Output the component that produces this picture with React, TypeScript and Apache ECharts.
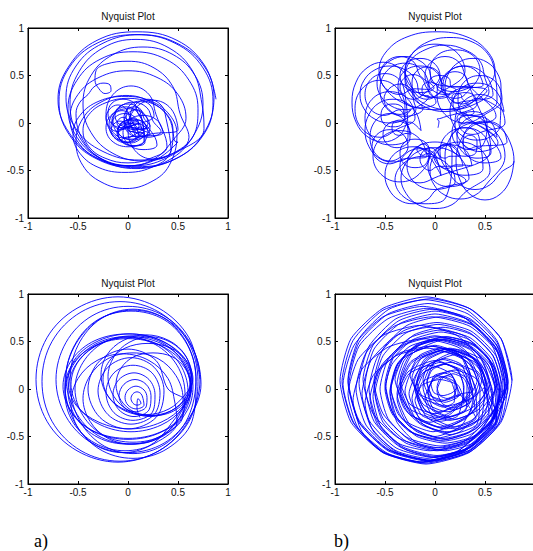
import * as echarts from "echarts";
import { useEffect, useRef } from "react";

// axis ticks shared by the four Nyquist panels
const axisTicks = [-1, -0.5, 0, 0.5, 1];
const panelTitles = ["Nyquist Plot", "Nyquist Plot", "Nyquist Plot", "Nyquist Plot"];
const figureLabels = ["a)", "b)"];

// top left: big outer loops, lower loops, dense knot round the origin
const nyquistA = [
  [0.88, 0.25], [0.77, 0.6], [0.49, 0.87], [0.09, 0.96], [-0.31, 0.87], [-0.59, 0.6], [-0.7, 0.25], [-0.59, -0.1], [-0.31, -0.37], [0.09, -0.46], [0.49, -0.37], [0.77, -0.1],
  [0.85, 0.23], [0.75, 0.58], [0.47, 0.84], [0.08, 0.93], [-0.31, 0.84], [-0.59, 0.58], [-0.69, 0.23], [-0.59, -0.12], [-0.31, -0.38], [0.08, -0.47], [0.47, -0.38], [0.75, -0.12],
  [0.86, 0.27], [0.76, 0.6], [0.49, 0.84], [0.12, 0.93], [-0.25, 0.84], [-0.52, 0.6], [-0.62, 0.27], [-0.52, -0.06], [-0.25, -0.3], [0.12, -0.39], [0.49, -0.3], [0.76, -0.06],
  [0.74, 0.2], [0.65, 0.54], [0.41, 0.79], [0.08, 0.88], [-0.25, 0.79], [-0.49, 0.54], [-0.58, 0.2], [-0.49, -0.14], [-0.25, -0.39], [0.08, -0.48], [0.41, -0.39], [0.65, -0.14],
  [0.75, 0.2], [0.67, 0.5], [0.45, 0.72], [0.15, 0.8], [-0.15, 0.72], [-0.37, 0.5], [-0.45, 0.2], [-0.37, -0.1], [-0.15, -0.32], [0.15, -0.4], [0.45, -0.32], [0.67, -0.1],
  [0.7, 0.15], [0.61, 0.45], [0.38, 0.67], [0.05, 0.75], [-0.28, 0.67], [-0.51, 0.45], [-0.6, 0.15], [-0.51, -0.15], [-0.28, -0.37], [0.05, -0.45], [0.38, -0.37], [0.61, -0.15],
  [0.52, 0.1], [0.45, 0.38], [0.26, 0.58], [0.0, 0.65], [-0.22, 0.62], [-0.32, 0.55], [-0.33, 0.45], [-0.29, 0.36], [-0.23, 0.31], [-0.17, 0.34], [-0.18, 0.4], [-0.25, 0.42], [-0.34, 0.38], [-0.4, 0.3], [-0.48, 0.22], [-0.52, 0.1], [-0.45, -0.18], [-0.26, -0.38], [0.0, -0.45], [0.26, -0.38], [0.45, -0.18],
  [0.58, 0.05], [0.5, 0.3], [0.29, 0.48], [0.0, 0.55], [-0.29, 0.48], [-0.5, 0.3], [-0.58, 0.05], [-0.5, -0.2], [-0.29, -0.38], [0.0, -0.45], [0.29, -0.38], [0.5, -0.2],
  [0.48, -0.2], [0.41, 0.05], [0.23, 0.22], [-0.02, 0.29], [-0.27, 0.22], [-0.45, 0.05], [-0.52, -0.2], [-0.45, -0.45], [-0.27, -0.62], [-0.02, -0.69], [0.23, -0.62], [0.41, -0.45],
  [0.49, -0.12], [0.42, 0.08], [0.23, 0.23], [-0.03, 0.28], [-0.29, 0.23], [-0.48, 0.08], [-0.55, -0.12], [-0.48, -0.32], [-0.29, -0.47], [-0.03, -0.52], [0.23, -0.47], [0.42, -0.32],
  [0.45, -0.08], [0.39, 0.09], [0.23, 0.21], [0.0, 0.26], [-0.23, 0.21], [-0.39, 0.09], [-0.45, -0.08], [-0.39, -0.25], [-0.23, -0.37], [0.0, -0.42], [0.23, -0.37], [0.39, -0.25],
  [0.28, 0.09], [0.21, 0.3], [0.03, 0.39], [-0.15, 0.3], [-0.22, 0.09], [-0.15, -0.12], [0.03, -0.21], [0.21, -0.12],
  [0.5, -0.07], [0.43, 0.15], [0.25, 0.24], [0.07, 0.15], [0.0, -0.07], [0.07, -0.29], [0.25, -0.38], [0.43, -0.29],
  [0.38, 0.05], [0.33, 0.19], [0.2, 0.25], [0.07, 0.19], [0.02, 0.05], [0.07, -0.09], [0.2, -0.15], [0.33, -0.09],
  [0.25, 0.02], [0.19, 0.16], [0.05, 0.22], [-0.09, 0.16], [-0.15, 0.02], [-0.09, -0.12], [0.05, -0.18], [0.19, -0.12],
  [0.22, -0.05], [0.16, 0.09], [0.0, 0.15], [-0.16, 0.09], [-0.22, -0.05], [-0.16, -0.19], [0.0, -0.25], [0.16, -0.19],
  [0.15, -0.02], [0.1, 0.11], [-0.02, 0.17], [-0.14, 0.11], [-0.19, -0.02], [-0.14, -0.15], [-0.02, -0.21], [0.1, -0.15],
  [0.35, -0.1], [0.29, 0.03], [0.15, 0.08], [0.01, 0.03], [-0.05, -0.1], [0.01, -0.23], [0.15, -0.28], [0.29, -0.23],
  [0.1, 0.1], [0.06, 0.21], [-0.05, 0.25], [-0.16, 0.21], [-0.2, 0.1], [-0.16, -0.01], [-0.05, -0.05], [0.06, -0.01],
  [0.04, 0.03], [0.01, 0.1], [-0.06, 0.13], [-0.13, 0.1], [-0.16, 0.03], [-0.13, -0.04], [-0.06, -0.07], [0.01, -0.04],
  [0.26, 0.08], [0.22, 0.19], [0.12, 0.23], [0.02, 0.19], [-0.02, 0.08], [0.02, -0.03], [0.12, -0.07], [0.22, -0.03],
  [0.16, 0.05], [0.13, 0.14], [0.06, 0.17], [-0.01, 0.14], [-0.04, 0.05], [-0.01, -0.04], [0.06, -0.07], [0.13, -0.04],
  [0.14, -0.07], [0.11, 0.0], [0.02, 0.03], [-0.07, 0.0], [-0.1, -0.07], [-0.07, -0.14], [0.02, -0.17], [0.11, -0.14],
  [0.02, 0.05], [-0.02, 0.15], [-0.1, 0.19], [-0.18, 0.15], [-0.22, 0.05], [-0.18, -0.05], [-0.1, -0.09], [-0.02, -0.05],
  [0.19, -0.06], [0.16, 0.0], [0.1, 0.03], [0.04, 0.0], [0.01, -0.06], [0.04, -0.12], [0.1, -0.15], [0.16, -0.12],
  [0.01, -0.08], [-0.02, -0.01], [-0.08, 0.02], [-0.14, -0.01], [-0.17, -0.08], [-0.14, -0.15], [-0.08, -0.18], [-0.02, -0.15],
  [0.22, -0.12], [0.17, -0.04], [0.06, 0.0], [-0.05, -0.04], [-0.1, -0.12], [-0.05, -0.2], [0.06, -0.24], [0.17, -0.2],
  [0.13, 0.08], [0.09, 0.17], [0.0, 0.2], [-0.09, 0.17], [-0.13, 0.08], [-0.09, -0.01], [0.0, -0.04], [0.09, -0.01],
  [0.11, -0.02], [0.09, 0.03], [0.04, 0.05], [-0.01, 0.03], [-0.03, -0.02], [-0.01, -0.07], [0.04, -0.09], [0.09, -0.07],
  [0.11, -0.03], [0.07, 0.06], [-0.03, 0.1], [-0.13, 0.06], [-0.17, -0.03], [-0.13, -0.12], [-0.03, -0.16], [0.07, -0.12],
  [0.2, 0.0], [0.16, 0.1], [0.08, 0.14], [0.0, 0.1], [-0.04, 0.0], [0.0, -0.1], [0.08, -0.14], [0.16, -0.1],
  [0.11, -0.1], [0.08, -0.03], [0.0, 0.0], [-0.08, -0.03], [-0.11, -0.1], [-0.08, -0.17], [0.0, -0.2], [0.08, -0.17],
  [0.01, 0.0], [-0.01, 0.04], [-0.05, 0.06], [-0.09, 0.04], [-0.11, 0.0], [-0.09, -0.04], [-0.05, -0.06], [-0.01, -0.04],
  [0.2, -0.1], [0.16, 0.0], [0.05, 0.04], [-0.06, 0.0], [-0.1, -0.1], [-0.06, -0.2], [0.05, -0.24], [0.16, -0.2], [0.2, -0.1],
];

// top right: ring of loops round an empty middle
const nyquistB = [
  [0.03, -0.05], [0.04, 0.02], [0.02, 0.04], [0.06, 0.05],
  [0.42, 0.2], [0.39, 0.29], [0.3, 0.32], [0.21, 0.29], [0.18, 0.2], [0.21, 0.11], [0.3, 0.08], [0.39, 0.11],
  [0.27, 0.26], [0.26, 0.3], [0.22, 0.31], [0.18, 0.3], [0.17, 0.26], [0.18, 0.22], [0.22, 0.21], [0.26, 0.22],
  [0.58, 0.3], [0.5, 0.51], [0.3, 0.6], [0.1, 0.51], [0.02, 0.3], [0.1, 0.09], [0.3, 0.0], [0.5, 0.09],
  [0.67, 0.25], [0.61, 0.43], [0.45, 0.5], [0.29, 0.43], [0.23, 0.25], [0.29, 0.07], [0.45, 0.0], [0.61, 0.07],
  [0.34, 0.4], [0.3, 0.5], [0.2, 0.54], [0.1, 0.5], [0.06, 0.4], [0.1, 0.3], [0.2, 0.26], [0.3, 0.3],
  [0.45, 0.55], [0.38, 0.71], [0.2, 0.77], [0.02, 0.71], [-0.05, 0.55], [0.02, 0.39], [0.2, 0.33], [0.38, 0.39],
  [0.17, 0.38], [0.14, 0.47], [0.05, 0.5], [-0.04, 0.47], [-0.07, 0.38], [-0.04, 0.29], [0.05, 0.26], [0.14, 0.29],
  [0.03, 0.35], [0.01, 0.41], [-0.05, 0.43], [-0.11, 0.41], [-0.13, 0.35], [-0.11, 0.29], [-0.05, 0.27], [0.01, 0.29],
  [0.3, 0.55], [0.21, 0.75], [0.0, 0.83], [-0.21, 0.75], [-0.3, 0.55], [-0.21, 0.35], [0.0, 0.27], [0.21, 0.35],
  [0.07, 0.42], [0.03, 0.54], [-0.08, 0.59], [-0.19, 0.54], [-0.23, 0.42], [-0.19, 0.3], [-0.08, 0.25], [0.03, 0.3],
  [0.07, 0.38], [0.01, 0.54], [-0.15, 0.6], [-0.31, 0.54], [-0.37, 0.38], [-0.31, 0.22], [-0.15, 0.16], [0.01, 0.22],
  [-0.09, 0.38], [-0.13, 0.47], [-0.22, 0.51], [-0.31, 0.47], [-0.35, 0.38], [-0.31, 0.29], [-0.22, 0.25], [-0.13, 0.29],
  [0.05, 0.5], [-0.01, 0.63], [-0.15, 0.68], [-0.29, 0.63], [-0.35, 0.5], [-0.29, 0.37], [-0.15, 0.32], [-0.01, 0.37],
  [-0.15, 0.5], [-0.21, 0.64], [-0.35, 0.7], [-0.49, 0.64], [-0.55, 0.5], [-0.49, 0.36], [-0.35, 0.3], [-0.21, 0.36],
  [-0.05, 0.35], [-0.12, 0.55], [-0.3, 0.63], [-0.48, 0.55], [-0.55, 0.35], [-0.48, 0.15], [-0.3, 0.07], [-0.12, 0.15],
  [-0.19, 0.25], [-0.24, 0.36], [-0.35, 0.41], [-0.46, 0.36], [-0.51, 0.25], [-0.46, 0.14], [-0.35, 0.09], [-0.24, 0.14],
  [-0.3, 0.08], [-0.33, 0.17], [-0.42, 0.2], [-0.51, 0.17], [-0.54, 0.08], [-0.51, -0.01], [-0.42, -0.04], [-0.33, -0.01],
  [-0.3, 0.15], [-0.37, 0.36], [-0.55, 0.45], [-0.73, 0.36], [-0.8, 0.15], [-0.73, -0.06], [-0.55, -0.15], [-0.37, -0.06],
  [-0.2, 0.05], [-0.27, 0.25], [-0.45, 0.33], [-0.63, 0.25], [-0.7, 0.05], [-0.63, -0.15], [-0.45, -0.23], [-0.27, -0.15],
  [-0.3, 0.3], [-0.36, 0.46], [-0.5, 0.52], [-0.64, 0.46], [-0.7, 0.3], [-0.64, 0.14], [-0.5, 0.08], [-0.36, 0.14],
  [-0.27, -0.05], [-0.29, 0.01], [-0.35, 0.03], [-0.41, 0.01], [-0.43, -0.05], [-0.41, -0.11], [-0.35, -0.13], [-0.29, -0.11],
  [-0.24, -0.12], [-0.28, -0.02], [-0.38, 0.02], [-0.48, -0.02], [-0.52, -0.12], [-0.48, -0.22], [-0.38, -0.26], [-0.28, -0.22],
  [-0.25, -0.15], [-0.31, 0.03], [-0.45, 0.1], [-0.59, 0.03], [-0.65, -0.15], [-0.59, -0.33], [-0.45, -0.4], [-0.31, -0.33],
  [-0.27, -0.25], [-0.32, -0.12], [-0.45, -0.07], [-0.58, -0.12], [-0.63, -0.25], [-0.58, -0.38], [-0.45, -0.43], [-0.32, -0.38],
  [-0.08, -0.35], [-0.16, -0.16], [-0.35, -0.08], [-0.54, -0.16], [-0.62, -0.35], [-0.54, -0.54], [-0.35, -0.62], [-0.16, -0.54],
  [-0.05, -0.32], [-0.09, -0.21], [-0.2, -0.17], [-0.31, -0.21], [-0.35, -0.32], [-0.31, -0.43], [-0.2, -0.47], [-0.09, -0.43],
  [-0.06, -0.28], [-0.08, -0.24], [-0.12, -0.22], [-0.16, -0.24], [-0.18, -0.28], [-0.16, -0.32], [-0.12, -0.34], [-0.08, -0.32],
  [0.05, -0.38], [0.02, -0.3], [-0.05, -0.26], [-0.12, -0.3], [-0.15, -0.38], [-0.12, -0.46], [-0.05, -0.5], [0.02, -0.46],
  [0.28, -0.45], [0.2, -0.27], [0.0, -0.2], [-0.2, -0.27], [-0.28, -0.45], [-0.2, -0.63], [0.0, -0.7], [0.2, -0.63],
  [0.2, -0.6], [0.11, -0.42], [-0.1, -0.35], [-0.31, -0.42], [-0.4, -0.6], [-0.31, -0.78], [-0.1, -0.85], [0.11, -0.78],
  [0.17, -0.3], [0.15, -0.25], [0.1, -0.23], [0.05, -0.25], [0.03, -0.3], [0.05, -0.35], [0.1, -0.37], [0.15, -0.35],
  [0.25, -0.35], [0.21, -0.26], [0.12, -0.22], [0.03, -0.26], [-0.01, -0.35], [0.03, -0.44], [0.12, -0.48], [0.21, -0.44],
  [0.37, -0.45], [0.31, -0.29], [0.15, -0.23], [-0.01, -0.29], [-0.07, -0.45], [-0.01, -0.61], [0.15, -0.67], [0.31, -0.61],
  [0.05, -0.45], [-0.01, -0.32], [-0.15, -0.27], [-0.29, -0.32], [-0.35, -0.45], [-0.29, -0.58], [-0.15, -0.63], [-0.01, -0.58],
  [0.55, -0.3], [0.48, -0.12], [0.3, -0.05], [0.12, -0.12], [0.05, -0.3], [0.12, -0.48], [0.3, -0.55], [0.48, -0.48],
  [0.45, -0.2], [0.41, -0.09], [0.3, -0.05], [0.19, -0.09], [0.15, -0.2], [0.19, -0.31], [0.3, -0.35], [0.41, -0.31],
  [0.42, -0.2], [0.4, -0.15], [0.35, -0.13], [0.3, -0.15], [0.28, -0.2], [0.3, -0.25], [0.35, -0.27], [0.4, -0.25],
  [0.72, -0.2], [0.66, -0.04], [0.5, 0.02], [0.34, -0.04], [0.28, -0.2], [0.34, -0.36], [0.5, -0.42], [0.66, -0.36],
  [0.53, -0.1], [0.48, 0.03], [0.35, 0.08], [0.22, 0.03], [0.17, -0.1], [0.22, -0.23], [0.35, -0.28], [0.48, -0.23],
  [0.52, 0.0], [0.48, 0.09], [0.38, 0.12], [0.28, 0.09], [0.24, 0.0], [0.28, -0.09], [0.38, -0.12], [0.48, -0.09],
  [0.7, 0.0], [0.63, 0.21], [0.45, 0.3], [0.27, 0.21], [0.2, 0.0], [0.27, -0.21], [0.45, -0.3], [0.63, -0.21],
  [0.34, 0.05], [0.32, 0.09], [0.28, 0.11], [0.24, 0.09], [0.22, 0.05], [0.24, 0.01], [0.28, -0.01], [0.32, 0.01],
  [0.62, -0.15], [0.56, 0.01], [0.42, 0.07], [0.28, 0.01], [0.22, -0.15], [0.28, -0.31], [0.42, -0.37], [0.56, -0.31],
  [0.3, 0.5], [0.24, 0.64], [0.1, 0.7], [-0.04, 0.64], [-0.1, 0.5], [-0.04, 0.36], [0.1, 0.3], [0.24, 0.36],
  [0.48, 0.4], [0.42, 0.54], [0.28, 0.6], [0.14, 0.54], [0.08, 0.4], [0.14, 0.26], [0.28, 0.2], [0.42, 0.26],
  [0.69, 0.12], [0.65, 0.27], [0.56, 0.38], [0.42, 0.42], [0.28, 0.38], [0.19, 0.27], [0.15, 0.12], [0.19, -0.03], [0.28, -0.14], [0.42, -0.18], [0.56, -0.14], [0.65, -0.03],
  [0.66, 0.38], [0.62, 0.53], [0.52, 0.64], [0.38, 0.68], [0.24, 0.64], [0.14, 0.53], [0.1, 0.38], [0.14, 0.23], [0.24, 0.12], [0.38, 0.08], [0.52, 0.12], [0.62, 0.23],
  [0.6, 0.52], [0.54, 0.71], [0.38, 0.85], [0.15, 0.9], [-0.08, 0.85], [-0.24, 0.71], [-0.3, 0.52], [-0.24, 0.33], [-0.08, 0.19], [0.15, 0.14], [0.38, 0.19], [0.54, 0.33],
  [0.5, 0.47], [0.45, 0.65], [0.3, 0.77], [0.1, 0.82], [-0.1, 0.77], [-0.25, 0.65], [-0.3, 0.47], [-0.25, 0.3], [-0.1, 0.17], [0.1, 0.12], [0.3, 0.17], [0.45, 0.3],
  [0.6, 0.55], [0.52, 0.76], [0.31, 0.91], [0.02, 0.96], [-0.27, 0.91], [-0.48, 0.76], [-0.56, 0.55], [-0.48, 0.34], [-0.27, 0.19], [0.02, 0.14], [0.31, 0.19], [0.52, 0.34],
  [-0.02, 0.42], [-0.06, 0.56], [-0.16, 0.66], [-0.3, 0.7], [-0.44, 0.66], [-0.54, 0.56], [-0.58, 0.42], [-0.54, 0.28], [-0.44, 0.18], [-0.3, 0.14], [-0.16, 0.18], [-0.06, 0.28],
  [-0.15, 0.3], [-0.19, 0.45], [-0.3, 0.56], [-0.45, 0.6], [-0.6, 0.56], [-0.71, 0.45], [-0.75, 0.3], [-0.71, 0.15], [-0.6, 0.04], [-0.45, 0.0], [-0.3, 0.04], [-0.19, 0.15],
  [-0.21, 0.22], [-0.25, 0.43], [-0.36, 0.58], [-0.52, 0.64], [-0.68, 0.58], [-0.79, 0.43], [-0.83, 0.22], [-0.79, 0.01], [-0.68, -0.14], [-0.52, -0.2], [-0.36, -0.14], [-0.25, 0.01],
  [-0.14, -0.08], [-0.18, 0.09], [-0.28, 0.21], [-0.42, 0.25], [-0.56, 0.21], [-0.66, 0.09], [-0.7, -0.08], [-0.66, -0.25], [-0.56, -0.37], [-0.42, -0.41], [-0.28, -0.37], [-0.18, -0.25],
  [0.06, -0.55], [0.02, -0.4], [-0.08, -0.29], [-0.22, -0.25], [-0.36, -0.29], [-0.46, -0.4], [-0.5, -0.55], [-0.46, -0.7], [-0.36, -0.81], [-0.22, -0.85], [-0.08, -0.81], [0.02, -0.7],
  [0.34, -0.58], [0.29, -0.42], [0.17, -0.3], [0.0, -0.26], [-0.17, -0.3], [-0.29, -0.42], [-0.34, -0.58], [-0.29, -0.74], [-0.17, -0.86], [0.0, -0.9], [0.17, -0.86], [0.29, -0.74],
  [0.55, -0.5], [0.51, -0.35], [0.4, -0.24], [0.25, -0.2], [0.1, -0.24], [-0.01, -0.35], [-0.05, -0.5], [-0.01, -0.65], [0.1, -0.76], [0.25, -0.8], [0.4, -0.76], [0.51, -0.65],
  [0.7, -0.35], [0.66, -0.18], [0.55, -0.05], [0.4, 0.0], [0.25, -0.05], [0.14, -0.18], [0.1, -0.35], [0.14, -0.52], [0.25, -0.65], [0.4, -0.7], [0.55, -0.65], [0.66, -0.52],
  [0.79, -0.4], [0.75, -0.2], [0.65, -0.05], [0.5, 0.01], [0.35, -0.05], [0.25, -0.2], [0.21, -0.4], [0.25, -0.6], [0.35, -0.75], [0.5, -0.81], [0.65, -0.75], [0.75, -0.6], [0.79, -0.4],
];

// bottom left: wide outer loops, flat middle ellipses, inner spiral
const nyquistC = [
  [0.72, 0.1], [0.61, 0.54], [0.31, 0.85], [-0.1, 0.97], [-0.51, 0.85], [-0.81, 0.54], [-0.92, 0.1], [-0.81, -0.34], [-0.51, -0.65], [-0.1, -0.77], [0.31, -0.65], [0.61, -0.34],
  [0.7, 0.08], [0.6, 0.5], [0.31, 0.81], [-0.08, 0.92], [-0.47, 0.81], [-0.76, 0.5], [-0.86, 0.08], [-0.76, -0.34], [-0.47, -0.65], [-0.08, -0.76], [0.31, -0.65], [0.6, -0.34],
  [0.72, 0.1], [0.62, 0.49], [0.36, 0.77], [0.0, 0.87], [-0.36, 0.77], [-0.62, 0.49], [-0.72, 0.1], [-0.62, -0.29], [-0.36, -0.57], [0.0, -0.67], [0.36, -0.57], [0.62, -0.29],
  [0.73, 0.05], [0.64, 0.44], [0.39, 0.73], [0.05, 0.83], [-0.29, 0.73], [-0.54, 0.44], [-0.63, 0.05], [-0.54, -0.34], [-0.29, -0.63], [0.05, -0.73], [0.39, -0.63], [0.64, -0.34],
  [0.68, 0.08], [0.6, 0.46], [0.37, 0.74], [0.05, 0.84], [-0.27, 0.74], [-0.5, 0.46], [-0.58, 0.08], [-0.5, -0.3], [-0.27, -0.58], [0.05, -0.68], [0.37, -0.58], [0.6, -0.3],
  [0.68, 0.12], [0.59, 0.47], [0.36, 0.73], [0.03, 0.82], [-0.3, 0.73], [-0.53, 0.47], [-0.62, 0.12], [-0.53, -0.23], [-0.3, -0.49], [0.03, -0.58], [0.36, -0.49], [0.59, -0.23],
  [0.65, 0.03], [0.56, 0.31], [0.33, 0.51], [0.0, 0.58], [-0.33, 0.51], [-0.56, 0.31], [-0.65, 0.03], [-0.56, -0.25], [-0.33, -0.45], [0.0, -0.52], [0.33, -0.45], [0.56, -0.25],
  [0.64, 0.08], [0.56, 0.33], [0.33, 0.51], [0.02, 0.58], [-0.29, 0.51], [-0.52, 0.33], [-0.6, 0.08], [-0.52, -0.17], [-0.29, -0.35], [0.02, -0.42], [0.33, -0.35], [0.56, -0.17],
  [0.63, 0.0], [0.55, 0.27], [0.32, 0.46], [0.0, 0.53], [-0.32, 0.46], [-0.55, 0.27], [-0.63, 0.0], [-0.55, -0.27], [-0.32, -0.46], [0.0, -0.53], [0.32, -0.46], [0.55, -0.27],
  [0.57, -0.05], [0.49, 0.25], [0.27, 0.47], [-0.03, 0.55], [-0.33, 0.47], [-0.55, 0.25], [-0.63, -0.05], [-0.55, -0.35], [-0.33, -0.57], [-0.03, -0.65], [0.27, -0.57], [0.49, -0.35],
  [0.47, -0.15], [0.4, 0.11], [0.21, 0.3], [-0.05, 0.37], [-0.31, 0.3], [-0.5, 0.11], [-0.57, -0.15], [-0.5, -0.41], [-0.31, -0.6], [-0.05, -0.67], [0.21, -0.6], [0.4, -0.41],
  [0.6, -0.02], [0.52, 0.26], [0.3, 0.47], [0.0, 0.54], [-0.3, 0.47], [-0.52, 0.26], [-0.6, -0.02], [-0.52, -0.3], [-0.3, -0.51], [0.0, -0.58], [0.3, -0.51], [0.52, -0.3],
  [0.63, 0.05], [0.55, 0.3], [0.33, 0.48], [0.03, 0.55], [-0.27, 0.48], [-0.49, 0.3], [-0.57, 0.05], [-0.49, -0.2], [-0.27, -0.38], [0.03, -0.45], [0.33, -0.38], [0.55, -0.2],
  [0.63, 0.0], [0.55, 0.28], [0.34, 0.49], [0.05, 0.56], [-0.24, 0.49], [-0.45, 0.28], [-0.53, 0.0], [-0.45, -0.28], [-0.24, -0.49], [0.05, -0.56], [0.34, -0.49], [0.55, -0.28],
  [0.55, -0.1], [0.48, 0.14], [0.3, 0.32], [0.05, 0.38], [-0.2, 0.32], [-0.38, 0.14], [-0.45, -0.1], [-0.38, -0.34], [-0.2, -0.52], [0.05, -0.58], [0.3, -0.52], [0.48, -0.34],
  [0.64, 0.13], [0.58, 0.34], [0.43, 0.49], [0.22, 0.55], [0.01, 0.49], [-0.14, 0.34], [-0.2, 0.13], [-0.14, -0.08], [0.01, -0.23], [0.22, -0.29], [0.43, -0.23], [0.58, -0.08],
  [0.63, 0.15], [0.57, 0.36], [0.41, 0.51], [0.18, 0.57], [-0.05, 0.51], [-0.21, 0.36], [-0.27, 0.15], [-0.21, -0.06], [-0.05, -0.21], [0.18, -0.27], [0.41, -0.21], [0.57, -0.06],
  [0.65, 0.1], [0.59, 0.29], [0.43, 0.43], [0.2, 0.48], [-0.03, 0.43], [-0.19, 0.29], [-0.25, 0.1], [-0.19, -0.09], [-0.03, -0.23], [0.2, -0.28], [0.43, -0.23], [0.59, -0.09],
  [0.62, 0.05], [0.57, 0.22], [0.44, 0.34], [0.25, 0.38], [0.06, 0.34], [-0.07, 0.22], [-0.12, 0.05], [-0.07, -0.12], [0.06, -0.24], [0.25, -0.28], [0.44, -0.24], [0.57, -0.12],
  [0.4, 0.0], [0.28, 0.3], [0.0, 0.42], [-0.28, 0.3], [-0.4, 0.0], [-0.28, -0.3], [0.0, -0.42], [0.28, -0.3],
  [0.36, -0.02], [0.26, 0.23], [0.03, 0.33], [-0.2, 0.23], [-0.3, -0.02], [-0.2, -0.27], [0.03, -0.37], [0.26, -0.27],
  [0.32, -0.04], [0.24, 0.17], [0.05, 0.25], [-0.14, 0.17], [-0.22, -0.04], [-0.14, -0.25], [0.05, -0.33], [0.24, -0.25],
  [0.27, -0.06], [0.21, 0.1], [0.06, 0.17], [-0.09, 0.1], [-0.15, -0.06], [-0.09, -0.22], [0.06, -0.29], [0.21, -0.22],
  [0.23, -0.07], [0.18, 0.05], [0.07, 0.1], [-0.04, 0.05], [-0.09, -0.07], [-0.04, -0.19], [0.07, -0.24], [0.18, -0.19],
  [0.19, -0.09], [0.16, -0.01], [0.08, 0.03], [0.0, -0.01], [-0.03, -0.09], [0.0, -0.17], [0.08, -0.21], [0.16, -0.17],
  [0.15, -0.1], [0.13, -0.05], [0.09, -0.03], [0.05, -0.05], [0.03, -0.1], [0.05, -0.15], [0.09, -0.17], [0.13, -0.15],
  [0.1, -0.1], [0.09, -0.2], [0.12, -0.3],
];

// bottom right: many nested polygonal loops filling the disc
const nyquistD = [
  [0.77, 0.09], [0.66, 0.53], [0.34, 0.85], [-0.09, 0.97], [-0.52, 0.85], [-0.84, 0.53], [-0.95, 0.09], [-0.84, -0.35], [-0.52, -0.67], [-0.09, -0.79], [0.34, -0.67], [0.66, -0.35],
  [0.77, 0.1], [0.66, 0.53], [0.36, 0.84], [-0.05, 0.95], [-0.46, 0.84], [-0.76, 0.53], [-0.87, 0.1], [-0.76, -0.33], [-0.46, -0.64], [-0.05, -0.75], [0.36, -0.64], [0.66, -0.33],
  [0.73, 0.08], [0.62, 0.51], [0.32, 0.83], [-0.1, 0.94], [-0.52, 0.83], [-0.82, 0.51], [-0.93, 0.08], [-0.82, -0.35], [-0.52, -0.67], [-0.1, -0.78], [0.32, -0.67], [0.62, -0.35],
  [0.68, 0.05], [0.57, 0.46], [0.28, 0.76], [-0.12, 0.87], [-0.52, 0.76], [-0.81, 0.46], [-0.92, 0.05], [-0.81, -0.36], [-0.52, -0.66], [-0.12, -0.77], [0.28, -0.66], [0.57, -0.36],
  [0.57, -0.05], [0.47, 0.31], [0.21, 0.57], [-0.15, 0.67], [-0.51, 0.57], [-0.77, 0.31], [-0.87, -0.05], [-0.77, -0.41], [-0.51, -0.67], [-0.15, -0.77], [0.21, -0.67], [0.47, -0.41],
  [0.73, 0.07], [0.62, 0.49], [0.33, 0.79], [-0.07, 0.9], [-0.47, 0.79], [-0.76, 0.49], [-0.87, 0.07], [-0.76, -0.35], [-0.47, -0.65], [-0.07, -0.76], [0.33, -0.65], [0.62, -0.35],
  [0.58, -0.12], [0.49, 0.21], [0.23, 0.44], [-0.12, 0.53], [-0.47, 0.44], [-0.73, 0.21], [-0.82, -0.12], [-0.73, -0.45], [-0.47, -0.68], [-0.12, -0.77], [0.23, -0.68], [0.49, -0.45],
  [0.73, 0.0], [0.63, 0.38], [0.35, 0.66], [-0.03, 0.76], [-0.41, 0.66], [-0.69, 0.38], [-0.79, 0.0], [-0.69, -0.38], [-0.41, -0.66], [-0.03, -0.76], [0.35, -0.66], [0.63, -0.38],
  [0.7, 0.05], [0.6, 0.45], [0.31, 0.74], [-0.08, 0.85], [-0.47, 0.74], [-0.76, 0.45], [-0.86, 0.05], [-0.76, -0.35], [-0.47, -0.64], [-0.08, -0.75], [0.31, -0.64], [0.6, -0.35],
  [0.72, 0.06], [0.62, 0.45], [0.35, 0.74], [-0.02, 0.84], [-0.39, 0.74], [-0.66, 0.45], [-0.76, 0.06], [-0.66, -0.33], [-0.39, -0.62], [-0.02, -0.72], [0.35, -0.62], [0.62, -0.33],
  [0.72, 0.1], [0.62, 0.46], [0.36, 0.72], [0.0, 0.82], [-0.36, 0.72], [-0.62, 0.46], [-0.72, 0.1], [-0.62, -0.26], [-0.36, -0.52], [0.0, -0.62], [0.36, -0.52], [0.62, -0.26],
  [0.63, -0.05], [0.54, 0.3], [0.29, 0.56], [-0.05, 0.65], [-0.39, 0.56], [-0.64, 0.3], [-0.73, -0.05], [-0.64, -0.4], [-0.39, -0.66], [-0.05, -0.75], [0.29, -0.66], [0.54, -0.4],
  [0.7, 0.04], [0.61, 0.42], [0.35, 0.69], [0.0, 0.79], [-0.35, 0.69], [-0.61, 0.42], [-0.7, 0.04], [-0.61, -0.34], [-0.35, -0.61], [0.0, -0.71], [0.35, -0.61], [0.61, -0.34],
  [0.54, -0.15], [0.46, 0.14], [0.23, 0.35], [-0.08, 0.43], [-0.39, 0.35], [-0.62, 0.14], [-0.7, -0.15], [-0.62, -0.44], [-0.39, -0.65], [-0.08, -0.73], [0.23, -0.65], [0.46, -0.44],
  [0.71, 0.08], [0.62, 0.42], [0.38, 0.67], [0.05, 0.76], [-0.28, 0.67], [-0.52, 0.42], [-0.61, 0.08], [-0.52, -0.26], [-0.28, -0.51], [0.05, -0.6], [0.38, -0.51], [0.62, -0.26],
  [0.55, -0.1], [0.47, 0.18], [0.25, 0.38], [-0.05, 0.45], [-0.35, 0.38], [-0.57, 0.18], [-0.65, -0.1], [-0.57, -0.38], [-0.35, -0.58], [-0.05, -0.65], [0.25, -0.58], [0.47, -0.38],
  [0.7, 0.0], [0.61, 0.35], [0.36, 0.61], [0.02, 0.7], [-0.32, 0.61], [-0.57, 0.35], [-0.66, 0.0], [-0.57, -0.35], [-0.32, -0.61], [0.02, -0.7], [0.36, -0.61], [0.61, -0.35],
  [0.62, -0.08], [0.54, 0.24], [0.31, 0.47], [0.0, 0.56], [-0.31, 0.47], [-0.54, 0.24], [-0.62, -0.08], [-0.54, -0.4], [-0.31, -0.63], [0.0, -0.72], [0.31, -0.63], [0.54, -0.4],
  [0.67, 0.02], [0.58, 0.35], [0.35, 0.59], [0.03, 0.68], [-0.29, 0.59], [-0.52, 0.35], [-0.61, 0.02], [-0.52, -0.31], [-0.29, -0.55], [0.03, -0.64], [0.35, -0.55], [0.58, -0.31],
  [0.64, -0.05], [0.56, 0.25], [0.33, 0.47], [0.02, 0.55], [-0.29, 0.47], [-0.52, 0.25], [-0.6, -0.05], [-0.52, -0.35], [-0.29, -0.57], [0.02, -0.65], [0.33, -0.57], [0.56, -0.35],
  [0.66, 0.05], [0.58, 0.35], [0.37, 0.57], [0.08, 0.65], [-0.21, 0.57], [-0.42, 0.35], [-0.5, 0.05], [-0.42, -0.25], [-0.21, -0.47], [0.08, -0.55], [0.37, -0.47], [0.58, -0.25],
  [0.65, 0.0], [0.57, 0.31], [0.35, 0.54], [0.05, 0.62], [-0.25, 0.54], [-0.47, 0.31], [-0.55, 0.0], [-0.47, -0.31], [-0.25, -0.54], [0.05, -0.62], [0.35, -0.54], [0.57, -0.31],
  [0.65, -0.05], [0.58, 0.25], [0.38, 0.47], [0.1, 0.55], [-0.18, 0.47], [-0.38, 0.25], [-0.45, -0.05], [-0.38, -0.35], [-0.18, -0.57], [0.1, -0.65], [0.38, -0.57], [0.58, -0.35],
  [0.65, -0.02], [0.58, 0.26], [0.38, 0.46], [0.1, 0.53], [-0.18, 0.46], [-0.38, 0.26], [-0.45, -0.02], [-0.38, -0.3], [-0.18, -0.5], [0.1, -0.57], [0.38, -0.5], [0.58, -0.3],
  [0.61, 0.03], [0.54, 0.32], [0.34, 0.52], [0.06, 0.6], [-0.22, 0.52], [-0.42, 0.32], [-0.49, 0.03], [-0.42, -0.26], [-0.22, -0.46], [0.06, -0.54], [0.34, -0.46], [0.54, -0.26],
  [0.5, 0.0], [0.43, 0.26], [0.25, 0.45], [0.0, 0.52], [-0.25, 0.45], [-0.43, 0.26], [-0.5, 0.0], [-0.43, -0.26], [-0.25, -0.45], [0.0, -0.52], [0.25, -0.45], [0.43, -0.26],
  [0.62, 0.05], [0.55, 0.3], [0.37, 0.48], [0.12, 0.55], [-0.13, 0.48], [-0.31, 0.3], [-0.38, 0.05], [-0.31, -0.2], [-0.13, -0.38], [0.12, -0.45], [0.37, -0.38], [0.55, -0.2],
  [0.6, 0.0], [0.53, 0.26], [0.34, 0.45], [0.08, 0.52], [-0.18, 0.45], [-0.37, 0.26], [-0.44, 0.0], [-0.37, -0.26], [-0.18, -0.45], [0.08, -0.52], [0.34, -0.45], [0.53, -0.26],
  [0.58, -0.05], [0.44, 0.29], [0.1, 0.43], [-0.24, 0.29], [-0.38, -0.05], [-0.24, -0.39], [0.1, -0.53], [0.44, -0.39],
  [0.5, 0.1], [0.37, 0.4], [0.05, 0.52], [-0.27, 0.4], [-0.4, 0.1], [-0.27, -0.2], [0.05, -0.32], [0.37, -0.2],
  [0.55, 0.05], [0.42, 0.38], [0.1, 0.52], [-0.22, 0.38], [-0.35, 0.05], [-0.22, -0.28], [0.1, -0.42], [0.42, -0.28],
  [0.4, 0.0], [0.28, 0.32], [-0.02, 0.45], [-0.32, 0.32], [-0.44, 0.0], [-0.32, -0.32], [-0.02, -0.45], [0.28, -0.32],
  [0.54, -0.02], [0.42, 0.29], [0.12, 0.42], [-0.18, 0.29], [-0.3, -0.02], [-0.18, -0.33], [0.12, -0.46], [0.42, -0.33],
  [0.6, 0.0], [0.48, 0.3], [0.2, 0.42], [-0.08, 0.3], [-0.2, 0.0], [-0.08, -0.3], [0.2, -0.42], [0.48, -0.3],
  [0.53, -0.1], [0.42, 0.17], [0.15, 0.28], [-0.12, 0.17], [-0.23, -0.1], [-0.12, -0.37], [0.15, -0.48], [0.42, -0.37],
  [0.45, 0.0], [0.33, 0.28], [0.05, 0.4], [-0.23, 0.28], [-0.35, 0.0], [-0.23, -0.28], [0.05, -0.4], [0.33, -0.28],
  [0.38, -0.1], [0.27, 0.18], [0.0, 0.3], [-0.27, 0.18], [-0.38, -0.1], [-0.27, -0.38], [0.0, -0.5], [0.27, -0.38],
  [0.47, 0.12], [0.37, 0.33], [0.12, 0.42], [-0.13, 0.33], [-0.23, 0.12], [-0.13, -0.09], [0.12, -0.18], [0.37, -0.09],
  [0.51, 0.05], [0.4, 0.32], [0.15, 0.43], [-0.1, 0.32], [-0.21, 0.05], [-0.1, -0.22], [0.15, -0.33], [0.4, -0.22],
  [0.35, 0.1], [0.25, 0.36], [0.0, 0.46], [-0.25, 0.36], [-0.35, 0.1], [-0.25, -0.16], [0.0, -0.26], [0.25, -0.16],
  [0.42, -0.05], [0.32, 0.2], [0.08, 0.31], [-0.16, 0.2], [-0.26, -0.05], [-0.16, -0.3], [0.08, -0.41], [0.32, -0.3],
  [0.52, 0.02], [0.43, 0.26], [0.2, 0.36], [-0.03, 0.26], [-0.12, 0.02], [-0.03, -0.22], [0.2, -0.32], [0.43, -0.22],
  [0.5, -0.1], [0.41, 0.11], [0.2, 0.2], [-0.01, 0.11], [-0.1, -0.1], [-0.01, -0.31], [0.2, -0.4], [0.41, -0.31],
  [0.25, -0.05], [0.16, 0.16], [-0.05, 0.25], [-0.26, 0.16], [-0.35, -0.05], [-0.26, -0.26], [-0.05, -0.35], [0.16, -0.26],
  [0.42, 0.08], [0.33, 0.31], [0.12, 0.4], [-0.09, 0.31], [-0.18, 0.08], [-0.09, -0.15], [0.12, -0.24], [0.33, -0.15],
  [0.35, 0.15], [0.26, 0.35], [0.05, 0.43], [-0.16, 0.35], [-0.25, 0.15], [-0.16, -0.05], [0.05, -0.13], [0.26, -0.05],
  [0.38, -0.02], [0.3, 0.18], [0.1, 0.26], [-0.1, 0.18], [-0.18, -0.02], [-0.1, -0.22], [0.1, -0.3], [0.3, -0.22],
  [0.44, 0.08], [0.36, 0.29], [0.18, 0.38], [0.0, 0.29], [-0.08, 0.08], [0.0, -0.13], [0.18, -0.22], [0.36, -0.13],
  [0.3, -0.12], [0.23, 0.04], [0.05, 0.1], [-0.13, 0.04], [-0.2, -0.12], [-0.13, -0.28], [0.05, -0.34], [0.23, -0.28],
  [0.29, 0.02], [0.22, 0.2], [0.05, 0.28], [-0.12, 0.2], [-0.19, 0.02], [-0.12, -0.16], [0.05, -0.24], [0.22, -0.16],
  [0.37, -0.05], [0.31, 0.12], [0.15, 0.19], [-0.01, 0.12], [-0.07, -0.05], [-0.01, -0.22], [0.15, -0.29], [0.31, -0.22],
  [0.32, 0.1], [0.26, 0.26], [0.1, 0.32], [-0.06, 0.26], [-0.12, 0.1], [-0.06, -0.06], [0.1, -0.12], [0.26, -0.06],
  [0.22, -0.08], [0.16, 0.08], [0.02, 0.14], [-0.12, 0.08], [-0.18, -0.08], [-0.12, -0.24], [0.02, -0.3], [0.16, -0.24],
  [0.34, -0.02], [0.29, 0.11], [0.18, 0.16], [0.07, 0.11], [0.02, -0.02], [0.07, -0.15], [0.18, -0.2], [0.29, -0.15],
  [0.28, 0.06], [0.23, 0.2], [0.1, 0.26], [-0.03, 0.2], [-0.08, 0.06], [-0.03, -0.08], [0.1, -0.14], [0.23, -0.08],
  [0.23, -0.03], [0.19, 0.08], [0.08, 0.13], [-0.03, 0.08], [-0.07, -0.03], [-0.03, -0.14], [0.08, -0.19], [0.19, -0.14],
  [0.2, 0.05], [0.17, 0.14], [0.08, 0.17], [-0.01, 0.14], [-0.04, 0.05], [-0.01, -0.04], [0.08, -0.07], [0.17, -0.04],
  [0.22, 0.02], [0.19, 0.11], [0.12, 0.14], [0.05, 0.11], [0.02, 0.02], [0.05, -0.07], [0.12, -0.1], [0.19, -0.07], [0.22, 0.02],
];

const panels = [nyquistA, nyquistB, nyquistC, nyquistD];
const smoothing = [0.4, 0.4, 0.35, 0.2];

const GRID_W = 200;
const GRID_H = 190;
const gridOrigins = [
  [28, 28],
  [335, 28],
  [28, 294],
  [335, 294],
];
const titleY = [16, 16, 283.5, 283.5];
const FONT = "Liberation Sans, Arial, Helvetica, sans-serif";

function makeAxis(gridIndex: number, dim: "x" | "y", position: string, withLabels: boolean) {
  // the right-hand panels run off the page, so their "1" never shows
  const cutRight = dim === "x" && gridIndex % 2 === 1;
  return {
    type: "value",
    gridIndex,
    position,
    min: axisTicks[0],
    max: axisTicks[axisTicks.length - 1],
    interval: axisTicks[1] - axisTicks[0],
    axisLine: { show: true, onZero: false, lineStyle: { color: "#000", width: 1 } },
    axisTick: { show: true, inside: true, length: 3, lineStyle: { color: "#000", width: 1 } },
    axisLabel: {
      show: withLabels,
      showMaxLabel: !cutRight,
      fontSize: 10,
      fontFamily: FONT,
      color: "#111",
      margin: dim === "x" ? 3 : 4,
    },
    splitLine: { show: false },
    axisPointer: { show: false },
  };
}

function getChartOption() {
  const grid = gridOrigins.map(([left, top]) => ({
    left,
    top,
    width: GRID_W,
    height: GRID_H,
    show: true,
    borderColor: "#000",
    borderWidth: 1,
    backgroundColor: "transparent",
  }));
  const xAxis: any[] = [];
  const yAxis: any[] = [];
  panels.forEach((_, i) => {
    xAxis.push(makeAxis(i, "x", "bottom", true), makeAxis(i, "x", "top", false));
    yAxis.push(makeAxis(i, "y", "left", true), makeAxis(i, "y", "right", false));
  });
  const series = panels.map((data, i) => ({
    type: "line",
    xAxisIndex: i * 2,
    yAxisIndex: i * 2,
    data,
    showSymbol: false,
    symbol: "none",
    smooth: smoothing[i],
    silent: true,
    lineStyle: { color: "#0000ff", width: 0.9 },
  }));
  const titles = panelTitles.map((text, i) => ({
    type: "text",
    x: gridOrigins[i][0] + GRID_W / 2,
    y: titleY[i],
    style: {
      text,
      fill: "#111",
      font: `10px ${FONT}`,
      align: "center",
      textAlign: "center",
      verticalAlign: "middle",
      textVerticalAlign: "middle",
    },
  }));
  const labels = figureLabels.map((text, i) => ({
    type: "text",
    x: i === 0 ? 34 : 334,
    y: 541,
    style: {
      text,
      fill: "#000",
      font: "18px Liberation Serif, Times New Roman, serif",
      align: "left",
      textAlign: "left",
      verticalAlign: "middle",
      textVerticalAlign: "middle",
    },
  }));

  return {
    animation: false,
    backgroundColor: "#fff",
    grid,
    xAxis,
    yAxis,
    series,
    graphic: [...titles, ...labels],
  };
}

export default function App() {
  const chartRef = useRef<HTMLDivElement>(null);
  useEffect(() => {
    const chart = echarts.init(chartRef.current, null, { renderer: "svg" });
    chart.setOption(getChartOption());
    return () => {
      chart.dispose();
    };
  }, []);
  return (
    <div style={{ position: "fixed", left: 0, top: 0, width: 533, height: 551, overflow: "hidden", background: "#fff" }}>
      <div ref={chartRef} style={{ width: 545, height: 551 }} />
    </div>
  );
}
